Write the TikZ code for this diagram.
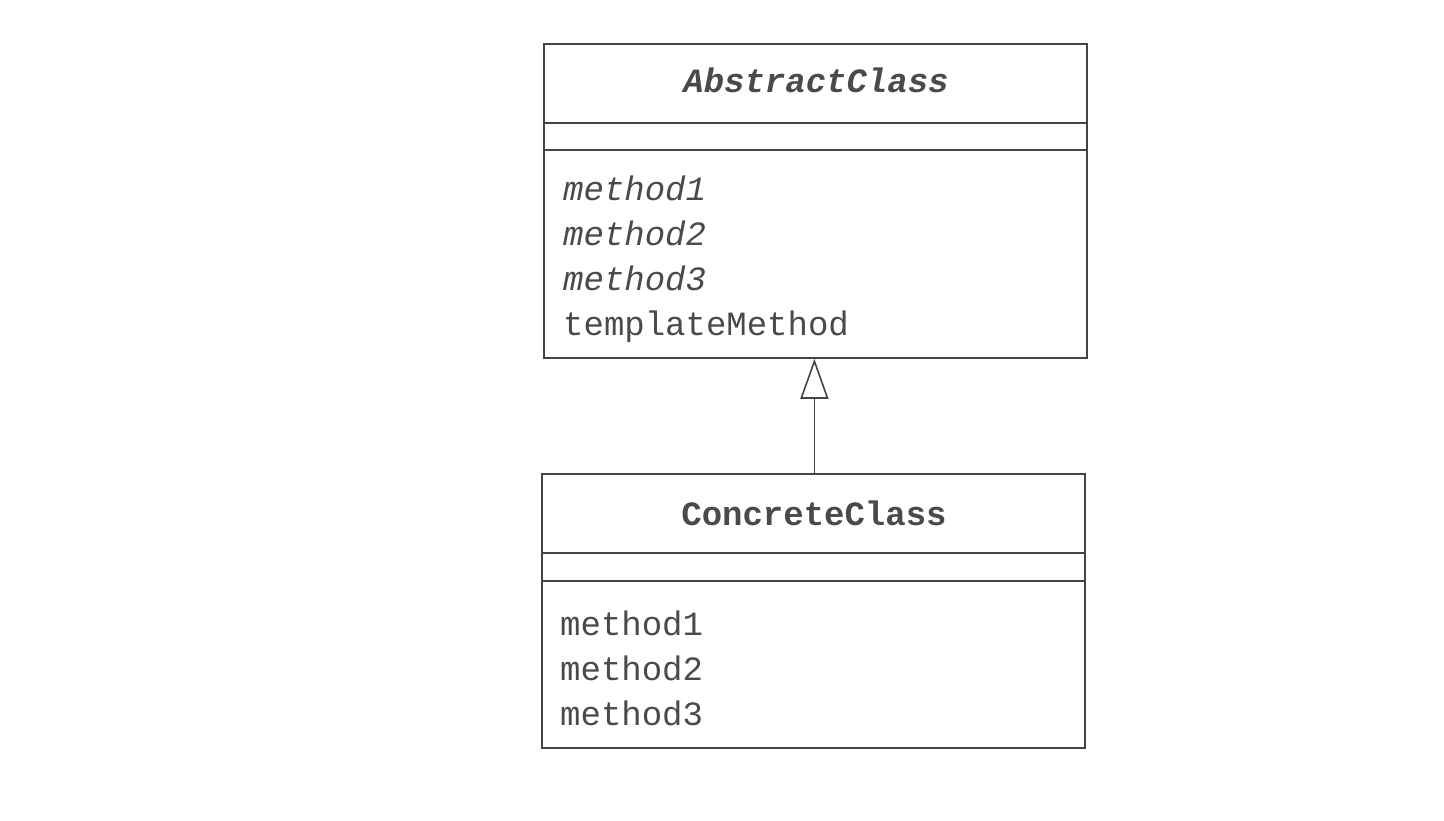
\documentclass[tikz,border=0pt]{standalone}
\usepackage{fontspec}
\newfontfamily\umlfont{Liberation Mono}
\usetikzlibrary{arrows.meta}
\definecolor{umlline}{HTML}{444444}
\definecolor{umltext}{HTML}{4A4A4A}
\begin{document}
\begin{tikzpicture}[x=1pt,y=-1pt,
  classbox/.style={draw=umlline, line width=1.8pt, fill=white, inner sep=0pt, anchor=north west},
  sepline/.style={draw=umlline, line width=1.8pt},
  classname/.style={anchor=base, inner sep=0pt, text=umltext, font=\umlfont\fontsize{34}{40}\selectfont\bfseries},
  member/.style={anchor=base west, inner sep=0pt, text=umltext, font=\umlfont\fontsize{34}{40}\selectfont},
  inherit/.style={draw=umlline, line width=1.6pt, -{Triangle[open, length=40pt, width=28pt, line width=1.6pt]}}
]
\useasboundingbox (0,0) rectangle (1444,820);
% AbstractClass
\node[classbox, minimum width=543pt, minimum height=314pt] (abs) at (543,43) {};
\draw[sepline] ([yshift=-80pt]abs.north west) -- ([yshift=-80pt]abs.north east);
\draw[sepline] ([yshift=-107pt]abs.north west) -- ([yshift=-107pt]abs.north east);
\node[classname, font=\umlfont\fontsize{34}{40}\selectfont\bfseries\itshape] (absname) at (816,92) {AbstractClass};
\node[member, font=\umlfont\fontsize{34}{40}\selectfont\itshape] (am1) at (563,200) {method1};
\node[member, font=\umlfont\fontsize{34}{40}\selectfont\itshape] (am2) at (563,245) {method2};
\node[member, font=\umlfont\fontsize{34}{40}\selectfont\itshape] (am3) at (563,290) {method3};
\node[member] (atm) at (563,335) {templateMethod};
% ConcreteClass
\node[classbox, minimum width=543pt, minimum height=274pt] (conc) at (541,473) {};
\draw[sepline] ([yshift=-80pt]conc.north west) -- ([yshift=-80pt]conc.north east);
\draw[sepline] ([yshift=-108pt]conc.north west) -- ([yshift=-108pt]conc.north east);
\node[classname] (concname) at (814,525) {ConcreteClass};
\node[member] (cm1) at (560,635) {method1};
\node[member] (cm2) at (560,680) {method2};
\node[member] (cm3) at (560,725) {method3};
% inheritance
\draw[inherit] ([xshift=1pt]conc.north) -- ([xshift=1pt]conc.north |- abs.south);
\end{tikzpicture}
\end{document}
